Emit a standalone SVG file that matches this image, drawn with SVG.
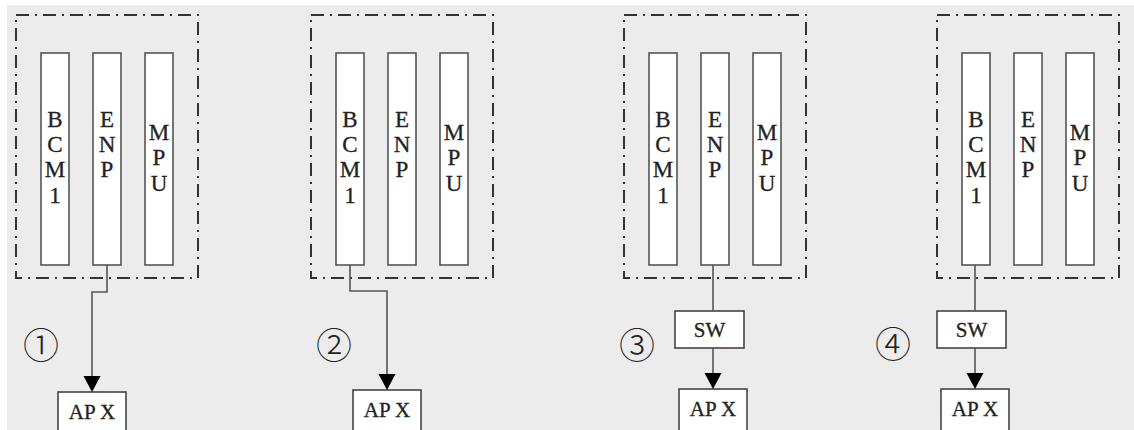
<svg xmlns="http://www.w3.org/2000/svg" width="1134" height="430" viewBox="0 0 1134 430">
<style>
.bg{fill:#ececec}
.frame{fill:none;stroke:#333;stroke-width:2;stroke-dasharray:13 6 2 6}
.slot{fill:#fff;stroke:#555;stroke-width:1.6}
.box{fill:#fff;stroke:#444;stroke-width:1.6}
.lbl{font-family:"Liberation Serif","Times New Roman",serif;font-size:23px;fill:#222;stroke:#222;stroke-width:0.3;text-anchor:middle}
.bl{font-family:"Liberation Serif","Times New Roman",serif;font-size:21px;fill:#222;stroke:#222;stroke-width:0.3;text-anchor:middle}
.num{font-family:"Noto Sans CJK SC","DejaVu Sans",sans-serif;font-size:36px;font-weight:300;fill:#222;text-anchor:middle;dominant-baseline:central}
.wire{fill:none;stroke:#555;stroke-width:1.6}
.head{fill:#000}
</style>
<rect x="0" y="0" width="1134" height="430" fill="#fff"/>
<rect class="bg" x="7" y="5" width="1127" height="425"/>

<g id="panel1">
  <rect class="frame" x="16" y="15" width="182" height="263"/>
  <g id="p1-bcm1"><rect class="slot" x="41" y="53" width="28" height="212"/>
    <text class="lbl" x="55" y="127">B</text><text class="lbl" x="55" y="152">C</text><text class="lbl" x="55" y="177">M</text><text class="lbl" x="55" y="203">1</text></g>
  <g id="p1-enp"><rect class="slot" x="93" y="53" width="28" height="212"/>
    <text class="lbl" x="107" y="127">E</text><text class="lbl" x="107" y="152">N</text><text class="lbl" x="107" y="177">P</text></g>
  <g id="p1-mpu"><rect class="slot" x="145" y="53" width="28" height="212"/>
    <text class="lbl" x="159" y="140">M</text><text class="lbl" x="159" y="165">P</text><text class="lbl" x="159" y="191">U</text></g>
  <g id="p1-apx"><rect class="box" x="58" y="392" width="68" height="50"/><text class="bl" x="92" y="419">AP X</text></g>
  <text id="p1-num" class="num" x="41" y="343">①</text>
</g>

<g id="panel2">
  <rect class="frame" x="311" y="15" width="182" height="263"/>
  <g id="p2-bcm1"><rect class="slot" x="336" y="53" width="28" height="212"/>
    <text class="lbl" x="350" y="127">B</text><text class="lbl" x="350" y="152">C</text><text class="lbl" x="350" y="177">M</text><text class="lbl" x="350" y="203">1</text></g>
  <g id="p2-enp"><rect class="slot" x="388" y="53" width="28" height="212"/>
    <text class="lbl" x="402" y="127">E</text><text class="lbl" x="402" y="152">N</text><text class="lbl" x="402" y="177">P</text></g>
  <g id="p2-mpu"><rect class="slot" x="440" y="53" width="28" height="212"/>
    <text class="lbl" x="454" y="140">M</text><text class="lbl" x="454" y="165">P</text><text class="lbl" x="454" y="191">U</text></g>
  <g id="p2-apx"><rect class="box" x="353" y="390" width="68" height="50"/><text class="bl" x="387" y="417">AP X</text></g>
  <text id="p2-num" class="num" x="334" y="343">②</text>
</g>

<g id="panel3">
  <rect class="frame" x="624" y="15" width="182" height="263"/>
  <g id="p3-bcm1"><rect class="slot" x="649" y="53" width="28" height="212"/>
    <text class="lbl" x="663" y="127">B</text><text class="lbl" x="663" y="152">C</text><text class="lbl" x="663" y="177">M</text><text class="lbl" x="663" y="203">1</text></g>
  <g id="p3-enp"><rect class="slot" x="701" y="53" width="28" height="212"/>
    <text class="lbl" x="715" y="127">E</text><text class="lbl" x="715" y="152">N</text><text class="lbl" x="715" y="177">P</text></g>
  <g id="p3-mpu"><rect class="slot" x="753" y="53" width="28" height="212"/>
    <text class="lbl" x="767" y="140">M</text><text class="lbl" x="767" y="165">P</text><text class="lbl" x="767" y="191">U</text></g>
  <g id="p3-sw"><rect class="box" x="675" y="311" width="69" height="37"/><text class="bl" x="709.5" y="337">SW</text></g>
  <g id="p3-apx"><rect class="box" x="679" y="389" width="68" height="50"/><text class="bl" x="713" y="416">AP X</text></g>
  <text id="p3-num" class="num" x="637" y="343">③</text>
</g>

<g id="panel4">
  <rect class="frame" x="937" y="15" width="182" height="263"/>
  <g id="p4-bcm1"><rect class="slot" x="962" y="53" width="28" height="212"/>
    <text class="lbl" x="976" y="127">B</text><text class="lbl" x="976" y="152">C</text><text class="lbl" x="976" y="177">M</text><text class="lbl" x="976" y="203">1</text></g>
  <g id="p4-enp"><rect class="slot" x="1014" y="53" width="28" height="212"/>
    <text class="lbl" x="1028" y="127">E</text><text class="lbl" x="1028" y="152">N</text><text class="lbl" x="1028" y="177">P</text></g>
  <g id="p4-mpu"><rect class="slot" x="1066" y="53" width="28" height="212"/>
    <text class="lbl" x="1080" y="140">M</text><text class="lbl" x="1080" y="165">P</text><text class="lbl" x="1080" y="191">U</text></g>
  <g id="p4-sw"><rect class="box" x="937" y="311" width="69" height="37"/><text class="bl" x="971.5" y="337">SW</text></g>
  <g id="p4-apx"><rect class="box" x="941" y="389" width="68" height="50"/><text class="bl" x="975" y="416">AP X</text></g>
  <text id="p4-num" class="num" x="893" y="342">④</text>
</g>

<g id="connectors">
  <path class="wire" d="M107,265 V292 H92 V377"/>
  <polygon class="head" points="83.5,376 100.5,376 92,392"/>
  <path class="wire" d="M350,265 V291 H387 V375"/>
  <polygon class="head" points="378.5,374 395.5,374 387,390"/>
  <path class="wire" d="M713,265 V311"/>
  <path class="wire" d="M713,348 V374"/>
  <polygon class="head" points="704.5,373 721.5,373 713,389"/>
  <path class="wire" d="M975,265 V311"/>
  <path class="wire" d="M975,348 V374"/>
  <polygon class="head" points="966.5,373 983.5,373 975,389"/>
</g>
</svg>
